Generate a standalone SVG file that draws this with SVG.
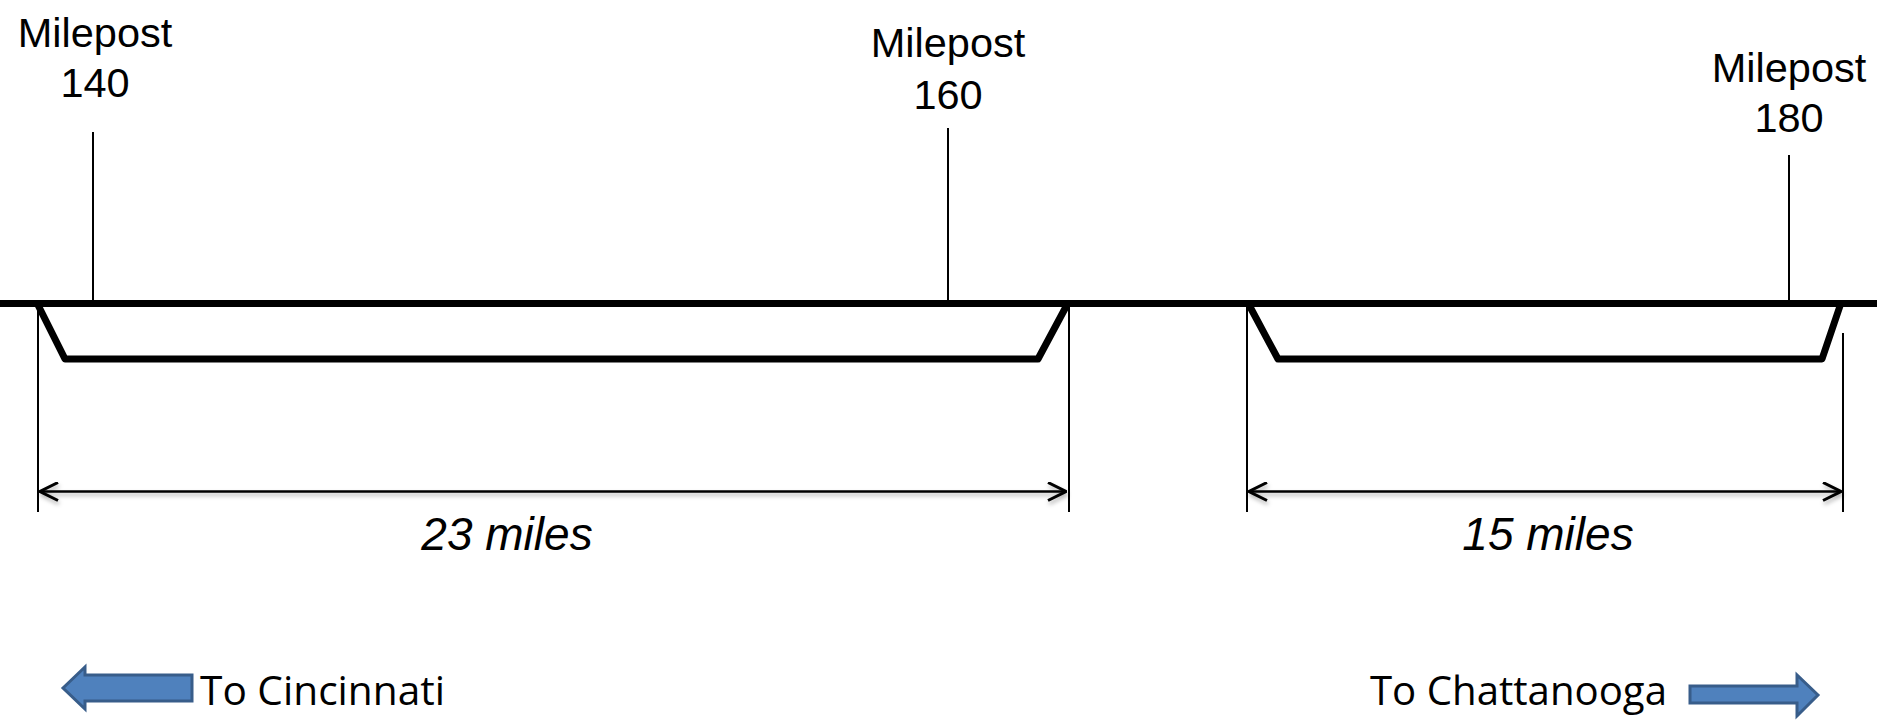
<svg xmlns="http://www.w3.org/2000/svg" width="1877" height="720" viewBox="0 0 1877 720">
<style>
.lbl{font-family:"Liberation Sans",Arial,sans-serif;font-size:41.5px;fill:#000;text-anchor:middle}
.dim{font-family:"Liberation Sans",Arial,sans-serif;font-size:46px;font-style:italic;fill:#000;text-anchor:middle}
.dir{font-family:"Open Sans",sans-serif;font-size:40.5px;fill:#000}
.road{fill:none;stroke:#000;stroke-width:7;stroke-linejoin:round}
.tick{stroke:#000;stroke-width:2}
.ext{stroke:#000;stroke-width:2}
.dl{stroke:#000;stroke-width:2.5;fill:none}
.blk{fill:#4F81BD;stroke:#385D8A;stroke-width:3}
</style>
<defs>
<filter id="sh" filterUnits="userSpaceOnUse" x="0" y="460" width="1877" height="70">
<feDropShadow dx="1" dy="3" stdDeviation="2" flood-color="#000" flood-opacity="0.3"/>
</filter>
<marker id="oa" viewBox="0 0 20 20" refX="19" refY="10" markerWidth="20" markerHeight="20" markerUnits="userSpaceOnUse" orient="auto-start-reverse">
<path d="M1,1 L19,10 L1,19" fill="none" stroke="#000" stroke-width="3"/>
</marker>
</defs>
<g id="road">
<line x1="0" y1="303.5" x2="1877" y2="303.5" class="road"/>
<polyline points="37,303 65,359 1038,359 1068,303" class="road"/>
<polyline points="1248,303 1278,359 1822,359 1841,303" class="road"/>
</g>
<g id="mp140">
<line x1="93" y1="132" x2="93" y2="300" class="tick"/>
<text class="lbl" x="95" y="47">Milepost</text>
<text class="lbl" x="95" y="97">140</text>
</g>
<g id="mp160">
<line x1="948" y1="128" x2="948" y2="300" class="tick"/>
<text class="lbl" x="948" y="57">Milepost</text>
<text class="lbl" x="948" y="109">160</text>
</g>
<g id="mp180">
<line x1="1789" y1="155" x2="1789" y2="300" class="tick"/>
<text class="lbl" x="1789" y="82">Milepost</text>
<text class="lbl" x="1789" y="132">180</text>
</g>
<g id="connectors">
<line x1="38" y1="307" x2="38" y2="512" class="ext"/>
<line x1="1069" y1="303" x2="1069" y2="512" class="ext"/>
<line x1="1247" y1="303" x2="1247" y2="512" class="ext"/>
<line x1="1843" y1="333" x2="1843" y2="512" class="ext"/>
<g filter="url(#sh)">
<line x1="40" y1="491.5" x2="1066" y2="491.5" class="dl" marker-start="url(#oa)" marker-end="url(#oa)"/>
<line x1="1249" y1="491.5" x2="1841" y2="491.5" class="dl" marker-start="url(#oa)" marker-end="url(#oa)"/>
</g>
</g>
<g id="dim23">
<text class="dim" x="507" y="550">23 miles</text>
</g>
<g id="dim15">
<text class="dim" x="1548" y="550">15 miles</text>
</g>
<g id="toCincinnati">
<polygon class="blk" points="63,688 85,667 85,675 192,675 192,701 85,701 85,709"/>
<text class="dir" x="200" y="705" textLength="245" lengthAdjust="spacingAndGlyphs">To Cincinnati</text>
</g>
<g id="toChattanooga">
<polygon class="blk" points="1818,695 1797,675 1797,686 1690,686 1690,703 1797,703 1797,716"/>
<text class="dir" x="1370" y="705" textLength="297" lengthAdjust="spacingAndGlyphs">To Chattanooga</text>
</g>
</svg>
